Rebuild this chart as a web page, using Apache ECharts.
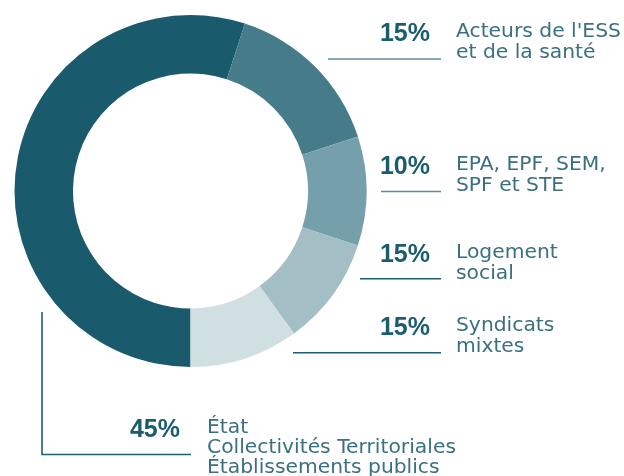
<!DOCTYPE html>
<html>
<head>
<meta charset="utf-8">
<script src="https://cdn.jsdelivr.net/npm/echarts@6/dist/echarts.min.js"></script>
<style>
  html, body { margin:0; padding:0; background:#fff; }
  #chart { width:624px; height:476px; }
</style>
</head>
<body>
<div id="chart"></div>
<script>
  var categories = ["État / Collectivités / Établissements publics", "Acteurs de l'ESS et de la santé", "EPA, EPF, SEM, SPF et STE", "Logement social", "Syndicats mixtes"];
  var values     = [55, 15, 10, 10, 10];
  // textes affichés à côté
  var pctLabels  = ["45%", "15%", "10%", "15%", "15%"];
  var nameLabels = [
    "État\nCollectivités Territoriales\nÉtablissements publics",
    "Acteurs de l'ESS\net de la santé",
    "EPA, EPF, SEM,\nSPF et STE",
    "Logement\nsocial",
    "Syndicats\nmixtes"
  ];

  var colors = ["#195b6c", "#467b8a", "#75a0ab", "#a3bfc5", "#d0dfe2"];
  var ink = "#1b5c6d", inkSoft = "#3b7080";
  var lineLight = "#5b8d99", lineDark = "#1e5f70";

  // mise en page des étiquettes : [x droite du %, y milieu du %, x gauche du nom, y milieu 1re ligne]
  var lay = [
    [180, 430.5, 207, 428],
    [430, 34, 456, 32],
    [430, 167, 456, 164.5],
    [430, 255, 456, 252.5],
    [430, 328, 456, 325.5]
  ];
  // traits de rappel
  var leaders = [
    { pts: [[42, 312], [42, 454.5], [191, 454.5]], c: lineDark },
    { pts: [[328, 59], [441, 59]], c: lineLight },
    { pts: [[381, 191.5], [441, 191.5]], c: lineLight },
    { pts: [[360, 278.7], [441, 278.7]], c: lineDark },
    { pts: [[293, 352.7], [441, 352.7]], c: lineDark }
  ];

  var graphics = [];
  lay.forEach(function(p, i){
    graphics.push({
      type: "text", x: p[0], y: p[1], silent: true,
      style: { text: pctLabels[i], fill: ink, font: "bold 25px 'Liberation Sans', Arial, sans-serif",
               textAlign: "right", textVerticalAlign: "middle" }
    });
    graphics.push({
      type: "text", x: p[2], y: p[3] - 10.5, silent: true,
      style: { text: nameLabels[i], fill: inkSoft, font: "20.3px 'DejaVu Sans', sans-serif",
               lineHeight: i === 0 ? 20 : 21, textAlign: "left", textVerticalAlign: "top" }
    });
  });
  leaders.forEach(function(l){
    graphics.push({
      type: "polyline", silent: true,
      shape: { points: l.pts },
      style: { stroke: l.c, lineWidth: 1.6, fill: null }
    });
  });

  var chart = echarts.init(document.getElementById("chart"), null, { renderer: "canvas" });
  chart.setOption({
    animation: false,
    color: colors,
    series: [{
      type: "pie",
      center: [190.5, 191],
      radius: [117.5, 176],
      startAngle: 270,
      clockwise: true,
      label: { show: false },
      labelLine: { show: false },
      emphasis: { disabled: true },
      itemStyle: { borderWidth: 0 },
      data: categories.map(function(c, i){ return { name: c, value: values[i] }; })
    }],
    graphic: graphics
  });
</script>
</body>
</html>
